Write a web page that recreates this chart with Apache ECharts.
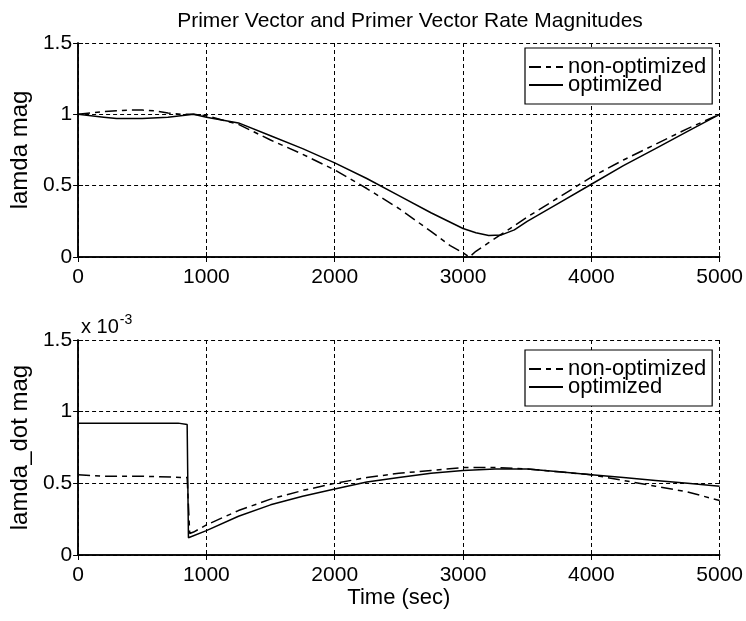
<!DOCTYPE html>
<html>
<head>
<meta charset="utf-8">
<script src="https://cdn.jsdelivr.net/npm/echarts@6/dist/echarts.min.js"></script>
<style>html,body{margin:0;padding:0;background:#fff;}#c{width:746px;height:621px;}</style>
</head>
<body>
<div id="c"></div>
<script>
// ---- Data ----
const titleText = 'Primer Vector and Primer Vector Rate Magnitudes';
const seriesNames = ['non-optimized', 'optimized'];
const xTicks = [0, 1000, 2000, 3000, 4000, 5000];
const yTicks = [0, 0.5, 1, 1.5];

// top panel: lamda magnitude
const topNonOptT = [0,100,200,300,400,500,600,700,800,900,1000,1250,1500,1750,2000,2250,2500,2750,2900,3000,3050,3100,3200,3300,3500,3750,4000,4250,4500,4750,5000];
const topNonOptV = [1.0,1.01,1.02,1.025,1.03,1.03,1.025,1.01,1.0,1.0,0.99,0.93,0.82,0.72,0.61,0.48,0.34,0.18,0.08,0.03,0.0,0.04,0.10,0.16,0.28,0.42,0.56,0.68,0.79,0.90,1.0];
const topOptT = [0,100,200,300,500,700,800,900,1000,1250,1500,1750,2000,2250,2500,2750,3000,3100,3200,3300,3400,3500,3750,4000,4250,4500,4750,5000];
const topOptV = [1.0,0.99,0.98,0.97,0.97,0.98,0.99,1.0,0.98,0.94,0.85,0.76,0.66,0.55,0.43,0.31,0.20,0.17,0.15,0.155,0.19,0.25,0.38,0.51,0.64,0.76,0.88,1.0];

// bottom panel: lamda_dot magnitude (x 10^-3)
const botNonOptT = [0,200,500,850,870,900,1000,1250,1500,1750,2000,2250,2500,2750,3000,3250,3500,3750,4000,4250,4500,4750,5000];
const botNonOptV = [0.56,0.55,0.55,0.54,0.15,0.16,0.21,0.31,0.39,0.45,0.50,0.54,0.57,0.59,0.61,0.61,0.60,0.58,0.56,0.52,0.48,0.44,0.38];
const botOptT = [0,100,400,780,850,860,1000,1250,1500,1750,2000,2250,2500,2750,3000,3250,3500,3750,4000,4250,4500,4750,5000];
const botOptV = [0.92,0.92,0.92,0.92,0.91,0.12,0.17,0.27,0.35,0.41,0.46,0.51,0.54,0.57,0.59,0.60,0.60,0.58,0.56,0.54,0.52,0.50,0.48];

const zip = (t, v) => t.map((x, i) => [x, v[i]]);

// ---- Styling ----
const FONT = '"Liberation Sans", Arial, sans-serif';
const gridLine = {show: true, lineStyle: {color: '#000', type: [4, 3], width: 1}};
const axisLineStyle = {show: true, lineStyle: {color: '#000', width: 1.5}};
const tickIn = {show: true, inside: true, length: 5, lineStyle: {color: '#000'}};
const labelStyle = {color: '#000', fontSize: 21, fontFamily: FONT};
const dashNonOpt = [12, 5, 5, 5];

function xAxisPair(gi, withName) {
  return [
    {gridIndex: gi, type: 'value', min: xTicks[0], max: xTicks[xTicks.length - 1], interval: xTicks[1] - xTicks[0], position: 'bottom',
     axisLine: axisLineStyle, axisTick: tickIn, splitLine: gridLine,
     axisLabel: Object.assign({margin: 10, formatter: v => String(v)}, labelStyle),
     name: withName ? 'Time (sec)' : '', nameLocation: 'middle', nameGap: 30,
     nameTextStyle: {color: '#000', fontSize: 22, fontFamily: FONT}},
    {gridIndex: gi, type: 'value', min: xTicks[0], max: xTicks[xTicks.length - 1], interval: xTicks[1] - xTicks[0], position: 'top',
     axisLine: axisLineStyle, axisTick: tickIn, splitLine: {show: false}, axisLabel: {show: false}}
  ];
}
function yAxisPair(gi, name) {
  return [
    {gridIndex: gi, type: 'value', min: yTicks[0], max: yTicks[yTicks.length - 1], interval: yTicks[1] - yTicks[0], position: 'left',
     axisLine: axisLineStyle, axisTick: tickIn, splitLine: gridLine,
     axisLabel: Object.assign({margin: 6, formatter: v => String(v)}, labelStyle),
     name: name, nameLocation: 'middle', nameGap: 45,
     nameTextStyle: {color: '#000', fontSize: 24, fontFamily: FONT}},
    {gridIndex: gi, type: 'value', min: yTicks[0], max: yTicks[yTicks.length - 1], interval: yTicks[1] - yTicks[0], position: 'right',
     axisLine: axisLineStyle, axisTick: tickIn, splitLine: {show: false}, axisLabel: {show: false}}
  ];
}
function legendAt(top) {
  return {
    data: seriesNames, orient: 'vertical', left: 525, top: top,
    itemWidth: 34, itemHeight: 14, itemGap: -4,
    padding: [8, 6, 8, 3],
    borderColor: '#000', borderWidth: 1.2, backgroundColor: '#fff',
    itemStyle: {color: 'transparent', borderWidth: 0, opacity: 0},
    textStyle: {color: '#000', fontSize: 22, lineHeight: 18, fontFamily: FONT},
    selectedMode: false
  };
}
function lineSeries(name, xi, yi, data, dashed) {
  return {
    name: name, type: 'line', xAxisIndex: xi, yAxisIndex: yi, data: data,
    showSymbol: false, symbol: 'none', animation: false, z: 5,
    lineStyle: {color: '#000', width: 1.5, type: dashed ? dashNonOpt : 'solid'},
    itemStyle: {color: '#000'}
  };
}

const option = {
  backgroundColor: '#fff',
  animation: false,
  title: [
    {text: titleText, left: 405, top: 6, textAlign: 'center',
     textStyle: {color: '#000', fontSize: 21, fontWeight: 'normal', fontFamily: FONT}},
    {text: '{a|x 10}{b|-3}', left: 76, top: 308,
     textStyle: {fontWeight: 'normal', rich: {
       a: {color: '#000', fontSize: 20, fontWeight: 'normal', fontFamily: FONT, verticalAlign: 'bottom'},
       b: {color: '#000', fontSize: 14, fontWeight: 'normal', fontFamily: FONT, verticalAlign: 'top', padding: [0, 0, 10, 1]}
     }}}
  ],
  grid: [
    {left: 78, top: 43, width: 643, height: 214},
    {left: 78, top: 340, width: 643, height: 215}
  ],
  xAxis: [...xAxisPair(0, false), ...xAxisPair(1, true)],
  yAxis: [...yAxisPair(0, 'lamda mag'), ...yAxisPair(1, 'lamda_dot mag')],
  legend: [legendAt(48), legendAt(350)],
  series: [
    lineSeries(seriesNames[0], 0, 0, zip(topNonOptT, topNonOptV), true),
    lineSeries(seriesNames[1], 0, 0, zip(topOptT, topOptV), false),
    lineSeries(seriesNames[0], 2, 2, zip(botNonOptT, botNonOptV), true),
    lineSeries(seriesNames[1], 2, 2, zip(botOptT, botOptV), false)
  ]
};

const chart = echarts.init(document.getElementById('c'), null, {renderer: 'canvas'});
chart.setOption(option);
</script>
</body>
</html>
